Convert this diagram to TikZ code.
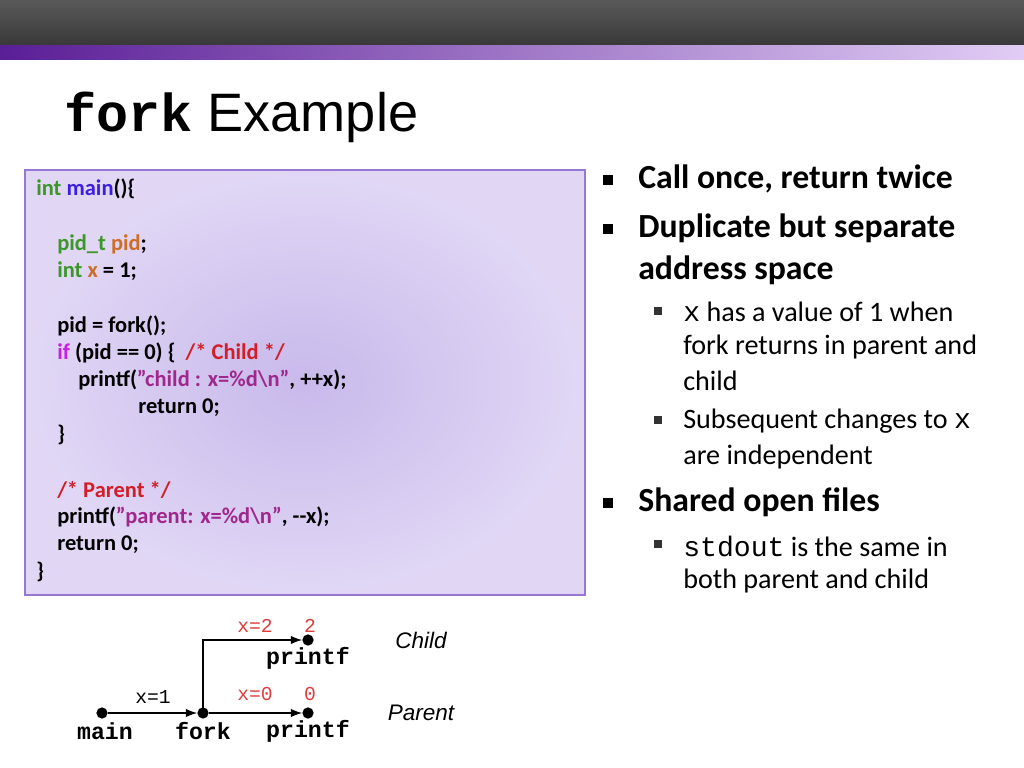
\documentclass[tikz,border=0pt]{standalone}
\usepackage{fontspec}
\setmainfont{Carlito}
\newfontfamily\monofont{Liberation Mono}
\newfontfamily\helvfont{Liberation Sans}
\usetikzlibrary{arrows.meta,positioning}
\definecolor{kwgreen}{RGB}{60,150,40}
\definecolor{kwblue}{RGB}{60,30,230}
\definecolor{kworange}{RGB}{205,110,40}
\definecolor{kwpink}{RGB}{200,30,230}
\definecolor{cmtred}{RGB}{210,30,40}
\definecolor{strpurple}{RGB}{160,40,140}
\definecolor{boxedge}{RGB}{150,120,210}
\definecolor{labred}{RGB}{225,60,60}
\tikzset{
  codeline/.style={anchor=west,inner sep=0pt,font=\bfseries\fontsize{16}{18}\selectfont},
  bigitem/.style={anchor=west,inner sep=0pt,font=\bfseries\fontsize{24}{28}\selectfont},
  smallitem/.style={anchor=west,inner sep=0pt,font=\fontsize{20}{24}\selectfont},
  dot/.style={circle,fill=black,inner sep=0pt,minimum size=8pt},
  fname/.style={font=\monofont\bfseries\fontsize{16.5}{18}\selectfont,inner sep=1pt},
  xlab/.style={font=\monofont\fontsize{14}{16}\selectfont,inner sep=1pt},
  flow/.style={-{Latex[length=8pt,width=6pt]},line width=0.8pt}
}
\newcommand{\bigmark}[1]{\fill (#1) ++(-5,-5) rectangle ++(10,10);}
\newcommand{\smallmark}[1]{\fill[black!80] (#1) ++(-4,-4) rectangle ++(8,8);}
\newcommand{\dq}{\symbol{34}}
\begin{document}
\begin{tikzpicture}[x=0.025cm,y=-0.025cm]
\useasboundingbox (0,0) rectangle (1024,768);
% header bars
\shade[top color=black!65,bottom color=black!78] (0,0) rectangle (1024,46);
\shade[left color={rgb,255:red,90;green,30;blue,150},right color={rgb,255:red,225;green,205;blue,245}] (0,46) rectangle (1024,60);
% title
\node[anchor=base west,inner sep=0pt] (title) at (64,132)
  {{\monofont\bfseries\fontsize{38}{44}\selectfont fork}{\helvfont\fontsize{38.5}{44}\selectfont\ Example}};
% code box
\shade[outer color={rgb,255:red,225;green,215;blue,245},inner color={rgb,255:red,200;green,185;blue,235},draw=boxedge,line width=0.8pt] (25,170) rectangle (585,595);
\node[codeline] (c1) at (36,189) {\color{kwgreen}int \color{kwblue}main\color{black}()\{};
\node[codeline] (c2) at (57,244) {\color{kwgreen}pid\_t \color{kworange}pid\color{black};};
\node[codeline] (c3) at (57,271) {\color{kwgreen}int \color{kworange}x \color{black}= 1;};
\node[codeline] (c4) at (57,326) {pid = fork();};
\node[codeline] (c5) at (57,353) {\color{kwpink}if \color{black}(pid == 0) \{\ \ \color{cmtred}/* Child */};
\node[codeline] (c6) at (78,380) {printf(\color{strpurple}\dq child : x=\%d\textbackslash n\dq\color{black}, ++x);};
\node[codeline] (c7) at (138,408) {return 0;};
\node[codeline] (c8) at (57,435) {\}};
\node[codeline] (c9) at (57,490) {\color{cmtred}/* Parent */};
\node[codeline] (c10) at (57,517) {printf(\color{strpurple}\dq parent: x=\%d\textbackslash n\dq\color{black}, -{}-x);};
\node[codeline] (c11) at (57,545) {return 0;};
\node[codeline] (c12) at (36,572) {\}};
% bullets
\bigmark{608,180}
\node[bigitem] (b1) at (638,179) {Call once, return twice};
\bigmark{608,229}
\node[bigitem] (b2) at (638,228) {Duplicate but separate};
\node[bigitem] (b2b) at (638,270) {address space};
\smallmark{658,311}
\node[smallitem] (s1) at (683,312) {{\monofont x} has a value of 1 when};
\node[smallitem] (s1b) at (683,347) {fork returns in parent and};
\node[smallitem] (s1c) at (683,381) {child};
\smallmark{658,420}
\node[smallitem] (s2) at (683,421) {Subsequent changes to {\monofont x}};
\node[smallitem] (s2b) at (683,457) {are independent};
\bigmark{608,503}
\node[bigitem] (b3) at (638,502) {Shared open files};
\smallmark{658,544}
\node[smallitem] (s3) at (683,546) {{\monofont stdout} is the same in};
\node[smallitem] (s3b) at (683,581) {both parent and child};
% process graph
\node[dot] (main) at (102,713) {};
\node[dot] (fork) at (203,713) {};
\node[dot] (pprintf) at (308,713) {};
\node[dot] (cprintf) at (308,640) {};
\node[fname] at (105,731) {main};
\node[fname] at (203,731) {fork};
\node[fname] at (308,731) {printf};
\node[fname] at (308,658) {printf};
\node[xlab] at (153,697) {x=1};
\node[xlab,text=labred] at (255,694) {x=0};
\node[xlab,text=labred] at (310,694) {0};
\node[xlab,text=labred] at (255,626) {x=2};
\node[xlab,text=labred] at (310,626) {2};
\node[font=\helvfont\itshape\fontsize{16}{18}\selectfont] at (421,640) {Child};
\node[font=\helvfont\itshape\fontsize{16}{18}\selectfont] at (421,713) {Parent};
\draw[flow] (main) -- (fork);
\draw[flow] (fork) -- (pprintf);
\draw[flow] (fork.center) |- (cprintf);
\end{tikzpicture}
\end{document}
